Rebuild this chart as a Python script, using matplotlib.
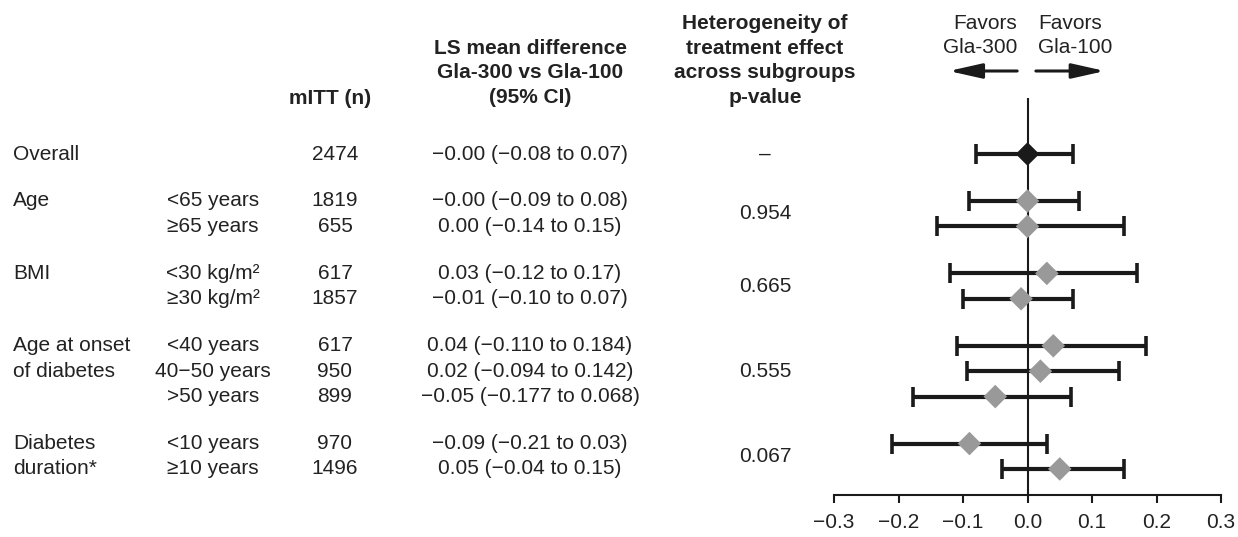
import matplotlib
matplotlib.use('Agg')
import matplotlib.pyplot as plt
import matplotlib.transforms as mtransforms
from matplotlib.patches import ArrowStyle

plt.rcParams['font.family'] = ['Liberation Sans', 'DejaVu Sans']
plt.rcParams['font.size'] = 15

# ---------------- data ----------------
categories = ["Overall", "Age", "BMI", "Age at onset\nof diabetes", "Diabetes\nduration*"]
group_sizes = [1, 2, 2, 3, 2]
subgroups = ["", "<65 years", "\u226565 years", "<30 kg/m\u00b2", "\u226530 kg/m\u00b2",
             "<40 years", "40\u221250 years", ">50 years", "<10 years", "\u226510 years"]
n_mitt = [2474, 1819, 655, 617, 1857, 617, 950, 899, 970, 1496]
estimates = [-0.00, -0.00, 0.00, 0.03, -0.01, 0.04, 0.02, -0.05, -0.09, 0.05]
ci_low = [-0.08, -0.09, -0.14, -0.12, -0.10, -0.110, -0.094, -0.177, -0.21, -0.04]
ci_high = [0.07, 0.08, 0.15, 0.17, 0.07, 0.184, 0.142, 0.068, 0.03, 0.15]
ci_labels = ["\u22120.00 (\u22120.08 to 0.07)", "\u22120.00 (\u22120.09 to 0.08)",
             "0.00 (\u22120.14 to 0.15)", "0.03 (\u22120.12 to 0.17)",
             "\u22120.01 (\u22120.10 to 0.07)", "0.04 (\u22120.110 to 0.184)",
             "0.02 (\u22120.094 to 0.142)", "\u22120.05 (\u22120.177 to 0.068)",
             "\u22120.09 (\u22120.21 to 0.03)", "0.05 (\u22120.04 to 0.15)"]
p_values = ["\u2013", "0.954", "0.665", "0.555", "0.067"]
xticks = [-0.3, -0.2, -0.1, 0.0, 0.1, 0.2, 0.3]
xtick_labels = [f"{v:.1f}".replace("-", "\u2212") for v in xticks]

# ---------------- layout ----------------
W, H = 1238, 537
DARK = '#1a1a1a'
TXT = '#222222'
GRAY = '#999999'
GAP = 1.85
LS = 1.36

ypos = []
y = -GAP
for size in group_sizes:
    y += GAP
    for k in range(size):
        ypos.append(y)
        y += 1
    y -= 1

fig = plt.figure(figsize=(W / 100, H / 100), dpi=100)
ax = fig.add_axes([834 / W, (H - 495) / H, 387 / W, 397 / H])
ax.set_xlim(-0.3, 0.3)
ax.set_ylim(13.425, -2.205)

# forest marks
xerr = [[e - l for e, l in zip(estimates, ci_low)], [h - e for e, h in zip(estimates, ci_high)]]
ax.errorbar(estimates, ypos, xerr=xerr, fmt='none', ecolor=DARK, elinewidth=3.0,
            capsize=7, capthick=2.6, zorder=2)
ax.axvline(0, color=DARK, lw=1.5, zorder=3)
colors = [DARK] + [GRAY] * (len(estimates) - 1)
ax.scatter(estimates, ypos, marker='D', s=12 ** 2, c=colors, edgecolors='none', zorder=4)

for s in ['top', 'right', 'left']:
    ax.spines[s].set_visible(False)
ax.spines['bottom'].set_linewidth(1.5)
ax.spines['bottom'].set_color(DARK)
ax.set_yticks([])
ax.set_xticks(xticks)
ax.set_xticklabels(xtick_labels, color=TXT)
ax.tick_params(axis='x', direction='out', length=6, width=1.5, color=DARK, pad=7)

# table text
trans = mtransforms.blended_transform_factory(fig.transFigure, ax.transData)
idx = 0
for gi, (cat, size) in enumerate(zip(categories, group_sizes)):
    rows = ypos[idx:idx + size]
    for li, line in enumerate(cat.split("\n")):
        fig.text(13 / W, rows[li], line, transform=trans, ha='left', va='center', color=TXT)
    fig.text(765 / W, sum(rows) / len(rows), p_values[gi], transform=trans,
             ha='center', va='center', color=TXT)
    idx += size

for i, yy in enumerate(ypos):
    fig.text(213 / W, yy, subgroups[i], transform=trans, ha='center', va='center', color=TXT)
    fig.text(335 / W, yy, str(n_mitt[i]), transform=trans, ha='center', va='center', color=TXT)
    fig.text(530 / W, yy, ci_labels[i], transform=trans, ha='center', va='center', color=TXT)

# headers
def fy(px):
    return 1 - px / H

fig.text(330 / W, fy(99), "mITT (n)", ha='center', va='center', fontweight='bold', color=TXT)
fig.text(530 / W, fy(73), "LS mean difference\nGla-300 vs Gla-100\n(95% CI)", ha='center',
         va='center', multialignment='center', fontweight='bold', color=TXT, linespacing=LS)
fig.text(765 / W, fy(60.5), "Heterogeneity of\ntreatment effect\nacross subgroups\np-value",
         ha='center', va='center', multialignment='center', fontweight='bold', color=TXT,
         linespacing=LS)
fig.text(1017 / W, fy(35.5), "Favors\nGla-300", ha='right', va='center',
         multialignment='right', color=TXT, linespacing=LS)
fig.text(1038 / W, fy(35.5), "Favors\nGla-100", ha='left', va='center',
         multialignment='left', color=TXT, linespacing=LS)

atrans = mtransforms.blended_transform_factory(ax.transData, fig.transFigure)
astyle = ArrowStyle('-|>', head_length=2.0, head_width=0.45)
for x0, x1 in [(-0.016, -0.122), (0.013, 0.120)]:
    ax.annotate('', xy=(x1, fy(71)), xytext=(x0, fy(71)), xycoords=atrans, textcoords=atrans,
                arrowprops=dict(arrowstyle=astyle, mutation_scale=10, lw=2.2, color=DARK,
                                shrinkA=0, shrinkB=0), annotation_clip=False)

fig.savefig('out.png', dpi=100)
